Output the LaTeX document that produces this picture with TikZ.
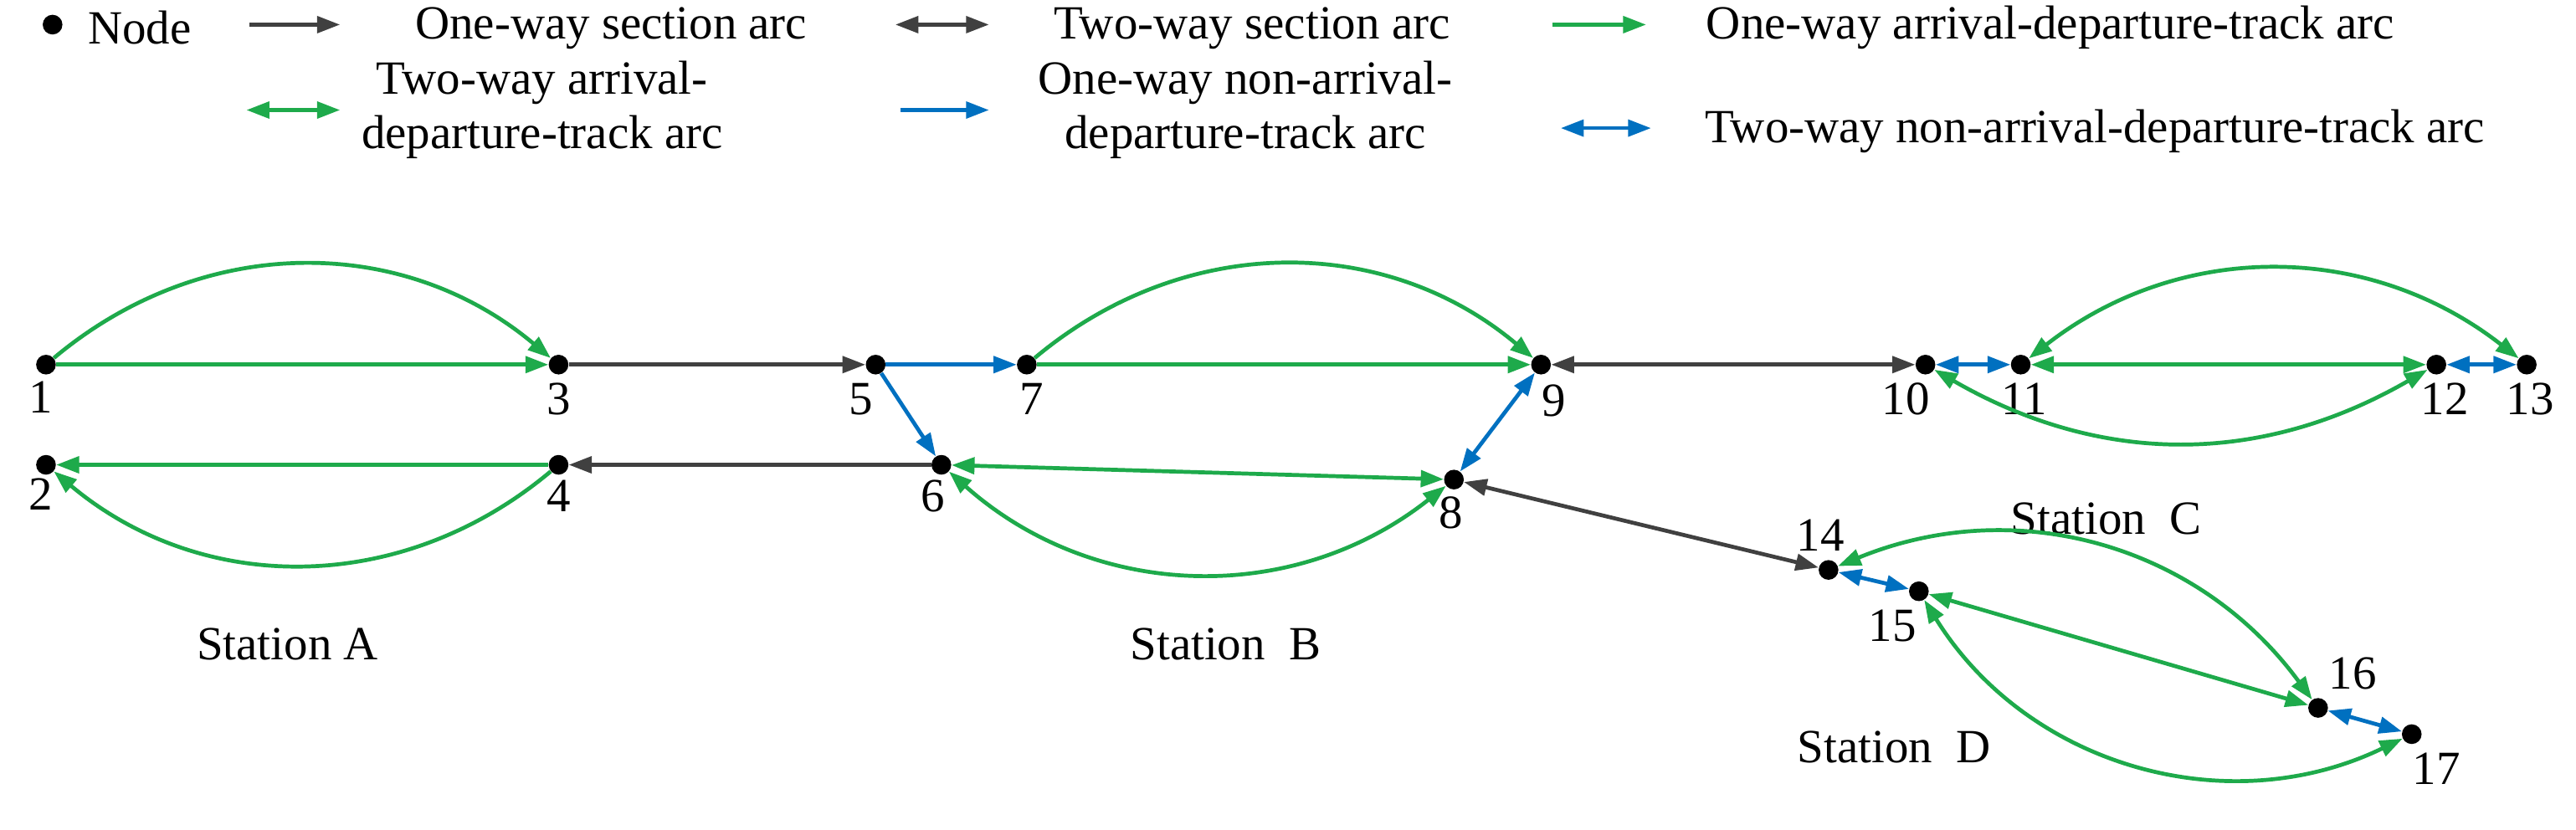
\documentclass[tikz,border=0pt]{standalone}
\usepackage{fontspec}
\setmainfont{Liberation Serif}
\usetikzlibrary{arrows.meta}
\definecolor{gr}{RGB}{30,170,75}
\definecolor{bl}{RGB}{0,112,192}
\definecolor{dk}{RGB}{64,64,64}
\begin{document}
\begin{tikzpicture}[x=1pt,y=1pt,
 dot/.style={circle,fill=black,inner sep=0pt,minimum size=12pt},
 lab/.style={font=\fontsize{29}{33}\selectfont,inner sep=0pt},
 tip/.style={-{Triangle[length=14pt,width=10pt]}},
 tt/.style={{Triangle[length=14pt,width=10pt]}-{Triangle[length=14pt,width=10pt]}},
 a/.style={line width=2.4pt}]
\useasboundingbox (0,0) rectangle (1568,-505);
% legend
\node[dot] (ld) at (32,-15) {};
\node[lab] (lt1) at (85,-17) {Node};
\coordinate (a1) at (152,-15); \coordinate (b1) at (207,-15);
\draw[a,dk,tip] (a1) -- (b1);
\node[lab] at (372,-17) {One-way section arc};
\coordinate (a2) at (545,-15); \coordinate (b2) at (602,-15);
\draw[a,dk,tt] (a2) -- (b2);
\node[lab] at (762,-17) {Two-way section arc};
\coordinate (a3) at (945,-15); \coordinate (b3) at (1002,-15);
\draw[a,gr,tip] (a3) -- (b3);
\node[lab] at (1248,-17) {One-way arrival-departure-track arc};
\coordinate (a4) at (150,-67); \coordinate (b4) at (207,-67);
\draw[a,gr,tt] (a4) -- (b4);
\node[lab,align=center] at (330,-67) {Two-way arrival-\\departure-track arc};
\coordinate (a5) at (548,-67); \coordinate (b5) at (602,-67);
\draw[a,bl,tip] (a5) -- (b5);
\node[lab,align=center] at (758,-67) {One-way non-arrival-\\departure-track arc};
\coordinate (a6) at (950,-78); \coordinate (b6) at (1005,-78);
\draw[a,bl,tt] (a6) -- (b6);
\node[lab] at (1275,-80) {Two-way non-arrival-departure-track arc};
% nodes
\foreach \n/\x/\y in {1/28/222,3/340/222,5/533/222,7/625/222,9/938/222,10/1172/222,11/1230/222,12/1483/222,13/1538/222,2/28/283,4/340/283,6/573/283,8/885/292,14/1113/347,15/1168/360,16/1411/431,17/1468/447}
  \node[dot] (n\n) at (\x,-\y) {};
\foreach \n/\x/\y in {1/25/242,3/340/243,5/524/243,7/628/243,9/946/244,10/1160/243,11/1232/243,12/1488/243,13/1540/243,2/25/301,4/340/302,6/568/302,8/883/312,14/1108/326,15/1152/381,16/1432/410,17/1483/468}
  \node[lab] (t\n) at (\x,-\y) {\n};
\node[lab] (sa) at (175,-392) {Station A};
\node[lab] (sb) at (746,-392) {Station~~B};
\node[lab] (sc) at (1282,-316) {Station~~C};
\node[lab] (sd) at (1153,-455) {Station~~D};
% arcs
\draw[a,gr,tip] (n1) -- (n3);
\draw[a,gr,tip] (n1) to[bend left=40] (n3);
\draw[a,gr,tip] (n4) -- (n2);
\draw[a,gr,tip] (n4) to[bend left=40] (n2);
\draw[a,dk,tip] (n3) -- (n5);
\draw[a,dk,tip] (n6) -- (n4);
\draw[a,bl,tip] (n5) -- (n7);
\draw[a,bl,tip] (n5) -- (n6);
\draw[a,gr,tip] (n7) -- (n9);
\draw[a,gr,tip] (n7) to[bend left=40] (n9);
\draw[a,gr,tt] (n6) -- (n8);
\draw[a,gr,tt] (n8) to[bend left=40] (n6);
\draw[a,bl,tt] (n8) -- (n9);
\draw[a,dk,tt] (n9) -- (n10);
\draw[a,bl,tt] (n10) -- (n11);
\draw[a,gr,tt] (n11) -- (n12);
\draw[a,gr,tt] (n11) to[bend left=38] (n13);
\draw[a,gr,tt] (n10) to[bend right=30] (n12);
\draw[a,bl,tt] (n12) -- (n13);
\draw[a,dk,tt] (n8) -- (n14);
\draw[a,bl,tt] (n14) -- (n15);
\draw[a,gr,tt] (n15) -- (n16);
\draw[a,gr,tt] (n14) to[bend left=38] (n16);
\draw[a,gr,tt] (n15) to[bend right=42] (n17);
\draw[a,bl,tt] (n16) -- (n17);
\end{tikzpicture}
\end{document}
